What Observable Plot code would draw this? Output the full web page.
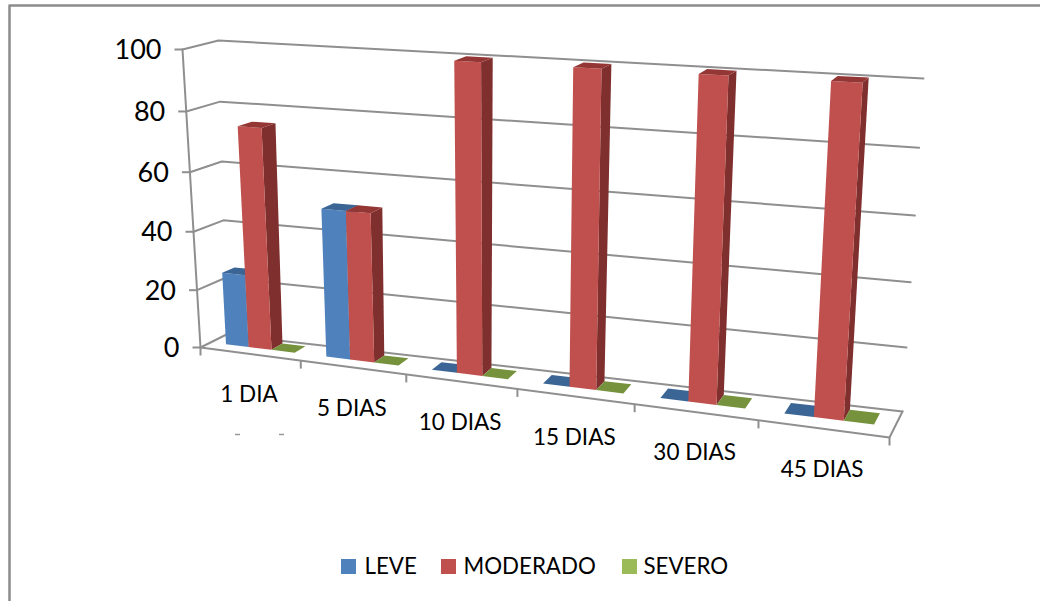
<!DOCTYPE html>
<html><head><meta charset="utf-8">
<style>html,body{margin:0;padding:0;background:#fff}svg{display:block}</style>
<script src="https://cdn.jsdelivr.net/npm/d3@7"></script>
<script src="https://cdn.jsdelivr.net/npm/@observablehq/plot@0.6"></script>
</head><body><div id="c"></div>
<script>
const categories = ["1 DIA","5 DIAS","10 DIAS","15 DIAS","30 DIAS","45 DIAS"];
const seriesNames = ["LEVE","MODERADO","SEVERO"];
const leve = [25,50,0,0,0,0];
const moderado = [75,50,100,100,100,100];
const severo = [0,0,0,0,0,0];
const yTicks = [0,20,40,60,80,100];
const colors = {
  LEVE:{front:"#4F81BD",side:"#2F5A8F",top:"#3A6595",key:"#4F81BD"},
  MODERADO:{front:"#C0504D",side:"#7F2F2D",top:"#943634",key:"#C0504D"},
  SEVERO:{front:"#9BBB59",side:"#5F7A2F",top:"#76923C",key:"#9BBB59"}
};
// camera: the eight projected corners of the plot box [s,d,v]
const corner = {
  f0l:[200,347], f0r:[889,437], b0l:[226,334], b0r:[902,411],
  f1l:[182,49],  f1r:[911,90],  b1l:[218,40],  b1r:[923,78]
};
const kS = 1.174, kV = 1.05;
const warp = (t,k)=>t/(t+k*(1-t));
function project(u,d,val){
  const s=warp(u/categories.length,kS), v=warp(val/100,kV);
  const mix=(a,b,t)=>[a[0]+(b[0]-a[0])*t,a[1]+(b[1]-a[1])*t];
  const p0=mix(mix(corner.f0l,corner.f0r,s),mix(corner.b0l,corner.b0r,s),d);
  const p1=mix(mix(corner.f1l,corner.f1r,s),mix(corner.b1l,corner.b1r,s),d);
  return mix(p0,p1,v);
}
const gap=.155, barW=(1-2*gap)/3, dA=.40, dB=.84;
// bars sit a little nearer the front at the top of the box, more so on the left
const dAt=(d,u,val)=>d-.09*(val/100)*(1-u/categories.length);
const polys=[];
let pid=0;
function addPoly(pts,fill){const id=pid++;for(const [u,d,val] of pts){const q=project(u,dAt(d,u,val),val);polys.push({id,x:q[0],y:q[1],fill});}}
[leve,moderado,severo].forEach((vals,si)=>{
  const c=colors[seriesNames[si]];
  vals.forEach((val,ci)=>{
    const a=ci+gap+si*barW,b=a+barW;
    if(val>0){
      addPoly([[b,dA,0],[b,dB,0],[b,dB,val],[b,dA,val]],c.side);
      addPoly([[a,dA,0],[b,dA,0],[b,dA,val],[a,dA,val]],c.front);
    }
    addPoly([[a,dA,val],[b,dA,val],[b,dB,val],[a,dB,val]],c.top);
  });
});
const grid=[];let gid=0;
yTicks.forEach(t=>{const id=gid++;[[0,0,t],[0,1,t],[6,1,t]].forEach(p=>{const q=project(...p);grid.push({id,x:q[0],y:q[1]});});});
{const id=gid++;[[0,0,0],[0,0,100]].forEach(p=>{const q=project(...p);grid.push({id,x:q[0],y:q[1]});});}
{const id=gid++;[[0,0,0],[6,0,0],[6,1,0]].forEach(p=>{const q=project(...p);grid.push({id,x:q[0],y:q[1]});});}
const ticks=[];
yTicks.forEach(t=>{const q=project(0,0,t);ticks.push({x1:q[0]-8,y1:q[1],x2:q[0],y2:q[1]});});
d3.range(0,7).forEach(u=>{const q=project(u,0,0);ticks.push({x1:q[0],y1:q[1],x2:q[0],y2:q[1]+8});});
const specks=[{x1:234.5,x2:239.5,y1:434,y2:434},{x1:278.5,x2:283.5,y1:434,y2:434}];
const yLabels=yTicks.map(t=>{const q=project(0,0,t);return {x:q[0]-21,y:q[1]+1,t:String(t)};});
const xLabels=categories.map((c,i)=>{const q=project(i+.5,0,0);return {x:q[0]-1,y:q[1]+41,t:c};});
const frame=[{x:9,y:601},{x:9,y:5},{x:1040,y:5}];
const legendKeys=[{n:"LEVE",x:341,lx:364},{n:"MODERADO",x:441,lx:463},{n:"SEVERO",x:622,lx:643}];
const font="Lato";
const chart=Plot.plot({
  width:1040,height:601,margin:0,
  x:{domain:[0,1040],range:[0,1040],axis:null},
  y:{domain:[0,601],range:[0,601],axis:null},
  marks:[
    Plot.line(frame,{x:"x",y:"y",stroke:"#8c8c8c",strokeWidth:2.5}),
    Plot.line(grid,{x:"x",y:"y",z:"id",stroke:"#8f8f8f",strokeWidth:2}),
    Plot.link(ticks,{x1:"x1",y1:"y1",x2:"x2",y2:"y2",stroke:"#8f8f8f",strokeWidth:2}),
    Plot.link(specks,{x1:"x1",y1:"y1",x2:"x2",y2:"y2",stroke:"#999",strokeWidth:1.5}),
    Plot.line(polys,{x:"x",y:"y",z:"id",fill:"fill",stroke:null,curve:"linear-closed"}),
    Plot.text(yLabels,{x:"x",y:"y",text:"t",textAnchor:"end",fontSize:27,fontFamily:font,fill:"#000"}),
    Plot.text(xLabels,{x:"x",y:"y",text:"t",fontSize:22.5,fontFamily:font,fill:"#000"}),
    Plot.rect(legendKeys,{x1:"x",x2:d=>d.x+15,y1:559,y2:574,fill:d=>colors[d.n].key}),
    Plot.text(legendKeys,{x:"lx",y:566,text:"n",textAnchor:"start",fontSize:22.3,fontFamily:font,fill:"#000"})
  ]
});
document.getElementById("c").append(chart);
</script></body></html>
